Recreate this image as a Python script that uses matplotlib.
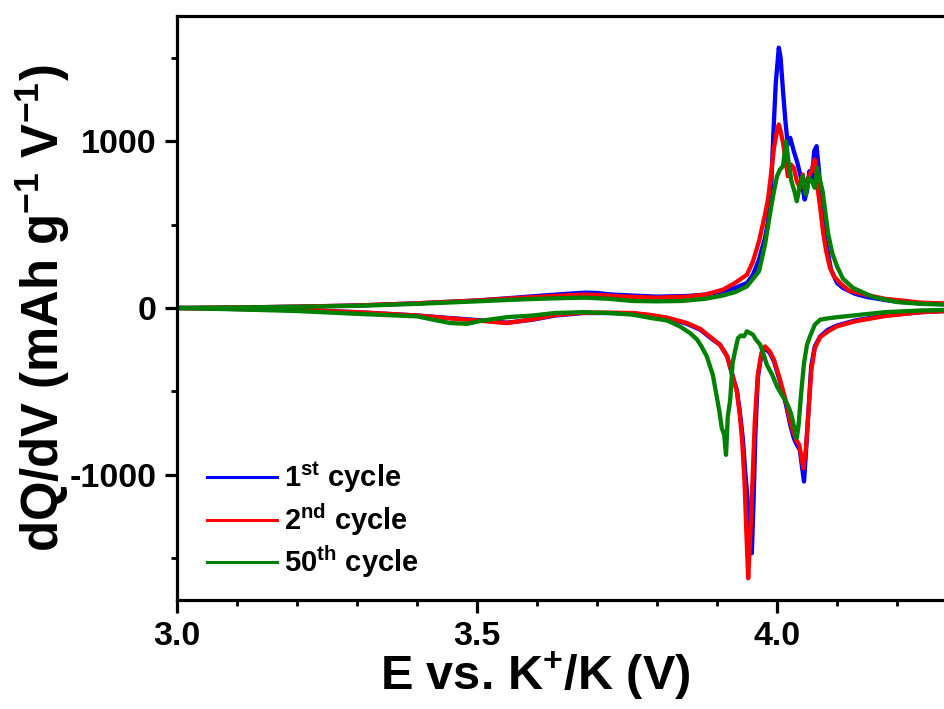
import matplotlib
matplotlib.use("Agg")

import matplotlib.pyplot as plt
from matplotlib.ticker import MultipleLocator

OUT_FILE = "out.png"
FONT     = "Liberation Sans"

# ---- cycle 1 (blue) ----
V1_CHG = [3.00, 3.10, 3.20, 3.30, 3.40, 3.50, 3.55, 3.60, 3.65, 3.68, 3.70, 3.72, 3.75, 3.80, 3.85,
          3.88, 3.91, 3.93, 3.95, 3.96, 3.97, 3.98, 3.985, 3.990, 3.994, 3.998, 4.003, 4.006, 4.010,
          4.014, 4.018, 4.022, 4.028, 4.034, 4.040, 4.046, 4.050, 4.054, 4.058, 4.062, 4.066, 4.070,
          4.075, 4.080, 4.085, 4.090, 4.10, 4.11, 4.13, 4.15, 4.18, 4.20, 4.24, 4.30]
Q1_CHG = [0, 3, 8, 15, 28, 45, 58, 72, 85, 92, 90, 82, 76, 68, 72,
          80, 100, 120, 150, 200, 290, 420, 520, 700, 1050, 1350, 1560, 1500, 1300,
          1120, 980, 1020, 940, 870, 780, 650, 700, 820, 760, 940, 970, 820,
          570, 420, 330, 230, 150, 120, 85, 66, 48, 38, 28, 20]
V1_DIS = [4.30, 4.24, 4.18, 4.13, 4.10, 4.085, 4.072, 4.063, 4.057, 4.052, 4.048, 4.045, 4.042, 4.038,
          4.033, 4.028, 4.022, 4.015, 4.005, 3.995, 3.988, 3.980, 3.974, 3.968, 3.964, 3.961, 3.958,
          3.955, 3.951, 3.947, 3.943, 3.938, 3.933, 3.927, 3.917, 3.905, 3.893, 3.872, 3.85, 3.817,
          3.79, 3.76, 3.72, 3.677, 3.63, 3.593, 3.55, 3.51, 3.455, 3.40, 3.30, 3.20, 3.10, 3.00]
Q1_DIS = [-15, -25, -45, -75, -105, -130, -170, -230, -350, -640, -880, -1040, -960, -850,
          -820, -780, -700, -580, -440, -320, -270, -240, -280, -420, -750, -1150, -1470,
          -1320, -1150, -980, -780, -620, -490, -420, -290, -220, -190, -130, -95, -60,
          -45, -32, -30, -30, -45, -70, -88, -75, -60, -45, -25, -12, -6, 0]

# ---- cycle 2 (red) ----
V2_CHG = [3.00, 3.10, 3.20, 3.30, 3.40, 3.50, 3.55, 3.60, 3.65, 3.68, 3.70, 3.75, 3.80, 3.85, 3.88,
          3.91, 3.93, 3.95, 3.96, 3.97, 3.98, 3.985, 3.990, 3.995, 4.000, 4.003, 4.006, 4.010, 4.014,
          4.018, 4.023, 4.028, 4.033, 4.038, 4.043, 4.047, 4.052, 4.057, 4.063, 4.067, 4.072, 4.077,
          4.082, 4.088, 4.095, 4.105, 4.12, 4.15, 4.18, 4.20, 4.24, 4.30]
Q2_CHG = [0, 3, 8, 15, 28, 45, 56, 66, 76, 80, 78, 68, 62, 68, 80,
          110, 150, 200, 280, 400, 560, 650, 800, 960, 1060, 1100, 1060, 990, 900,
          790, 860, 840, 760, 720, 800, 690, 780, 820, 890, 740, 600, 450,
          340, 245, 190, 150, 105, 78, 55, 48, 32, 25]
V2_DIS = [4.30, 4.24, 4.18, 4.13, 4.10, 4.085, 4.072, 4.063, 4.057, 4.052, 4.048, 4.044, 4.041, 4.037,
          4.032, 4.027, 4.022, 4.015, 4.005, 3.995, 3.988, 3.980, 3.974, 3.968, 3.963, 3.959, 3.955,
          3.952, 3.949, 3.946, 3.942, 3.938, 3.933, 3.927, 3.917, 3.905, 3.893, 3.872, 3.85, 3.817,
          3.79, 3.76, 3.72, 3.677, 3.63, 3.593, 3.55, 3.51, 3.455, 3.40, 3.30, 3.20, 3.10, 3.00]
Q2_DIS = [-15, -25, -48, -80, -110, -140, -175, -240, -380, -650, -850, -960, -900, -820,
          -790, -740, -680, -560, -430, -310, -260, -230, -270, -400, -680, -1050, -1400,
          -1620, -1350, -1050, -800, -640, -500, -420, -290, -220, -185, -125, -90, -58,
          -42, -30, -28, -28, -42, -68, -90, -78, -62, -45, -25, -12, -6, 0]

# ---- cycle 50 (green) ----
V50_CHG = [3.00, 3.10, 3.20, 3.30, 3.40, 3.50, 3.55, 3.60, 3.65, 3.68, 3.72, 3.76, 3.80, 3.84, 3.88,
           3.91, 3.93, 3.95, 3.97, 3.98, 3.990, 3.995, 4.000, 4.005, 4.010, 4.015, 4.019, 4.024,
           4.029, 4.033, 4.038, 4.043, 4.048, 4.053, 4.058, 4.063, 4.067, 4.072, 4.076, 4.080,
           4.085, 4.092, 4.100, 4.110, 4.127, 4.16, 4.20, 4.24, 4.30]
Q50_CHG = [0, 3, 7, 13, 25, 40, 48, 55, 60, 62, 55, 42, 40, 42, 55,
           75, 95, 130, 220, 380, 600, 700, 790, 830, 850, 1000, 880, 760,
           700, 640, 730, 790, 680, 780, 760, 720, 840, 760, 700, 590,
           450, 330, 250, 175, 120, 66, 36, 25, 18]
V50_DIS = [4.30, 4.24, 4.18, 4.127, 4.10, 4.085, 4.072, 4.063, 4.055, 4.050, 4.045, 4.040, 4.036,
           4.033, 4.029, 4.024, 4.020, 4.015, 4.008, 4.000, 3.992, 3.983, 3.977, 3.972, 3.965,
           3.960, 3.955, 3.950, 3.945, 3.940, 3.935, 3.930, 3.926, 3.922, 3.918, 3.915, 3.912,
           3.908, 3.904, 3.900, 3.893, 3.883, 3.874, 3.867, 3.855, 3.838, 3.817, 3.79, 3.76,
           3.72, 3.677, 3.63, 3.593, 3.55, 3.51, 3.483, 3.455, 3.427, 3.40, 3.30, 3.20, 3.10, 3.00]
Q50_DIS = [-10, -15, -25, -45, -55, -62, -70, -100, -170, -220, -330, -520, -700,
           -780, -720, -640, -600, -560, -520, -470, -400, -340, -270, -220, -190,
           -160, -150, -140, -170, -165, -180, -260, -330, -550, -650, -880, -760,
           -720, -620, -540, -400, -290, -230, -190, -150, -110, -75, -60, -40,
           -30, -25, -30, -45, -55, -75, -95, -90, -70, -50, -35, -18, -8, 0]

LABELS = [r"1$^{\mathbf{st}}$ cycle", r"2$^{\mathbf{nd}}$ cycle", r"50$^{\mathbf{th}}$ cycle"]
COLORS = ["#0000ff", "#ff0000", "#008000"]

X_LIM = (3.0, 4.3)
Y_LIM = (-1750, 1750)


def setup_style():
    plt.rcParams["font.family"]        = FONT
    plt.rcParams["font.weight"]        = "bold"
    plt.rcParams["mathtext.fontset"]   = "custom"
    plt.rcParams["mathtext.rm"]        = f"{FONT}:bold"
    plt.rcParams["mathtext.it"]        = f"{FONT}:bold"
    plt.rcParams["mathtext.bf"]        = f"{FONT}:bold"
    plt.rcParams["axes.unicode_minus"] = False


def plot_dqdv():
    fig = plt.figure(figsize=(9.45, 7.09), dpi=100)
    ax  = fig.add_axes([177 / 945, 109 / 709, 780 / 945, 584 / 709])

    curves = [
        (V1_CHG + V1_DIS, Q1_CHG + Q1_DIS),
        (V2_CHG + V2_DIS, Q2_CHG + Q2_DIS),
        (V50_CHG + V50_DIS, Q50_CHG + Q50_DIS),
    ]

    for (v, q), color, label in zip(curves, COLORS, LABELS):
        ax.plot(v, q, color=color, lw=3.1, label=label, solid_joinstyle="round")

    ax.set_xlim(*X_LIM)
    ax.set_ylim(*Y_LIM)

    ax.xaxis.set_major_locator(MultipleLocator(0.5))
    ax.xaxis.set_minor_locator(MultipleLocator(0.1))
    ax.yaxis.set_major_locator(MultipleLocator(1000))
    ax.yaxis.set_minor_locator(MultipleLocator(500))
    ax.xaxis.set_major_formatter(plt.FormatStrFormatter("%.1f"))

    for side in ax.spines.values():
        side.set_linewidth(2.3)

    ax.tick_params(which="major", direction="out", length=9, width=2.3, labelsize=24.5, pad=6)
    ax.tick_params(which="minor", direction="out", length=4.5, width=2.0)
    ax.tick_params(top=False, right=False)

    ax.set_xlabel(r"E vs. K$^{+}$/K (V)", fontsize=35, fontweight="bold")
    ax.set_ylabel(r"dQ/dV (mAh g$^{-1}$ V$^{-1}$)", fontsize=36.5, fontweight="bold")
    ax.xaxis.set_label_coords(0.459, -0.085)
    ax.yaxis.set_label_coords(-0.135, 0.5)

    legend = ax.legend(
        loc            = "lower left",
        bbox_to_anchor = (0.005, -0.011),
        frameon        = False,
        fontsize       = 21,
        handlelength   = 2.4,
        handletextpad  = 0.25,
        labelspacing   = 0.2,
    )
    for line in legend.get_lines():
        line.set_linewidth(2.2)

    fig.savefig(OUT_FILE, dpi=100)
    plt.close(fig)


if __name__ == "__main__":
    setup_style()
    plot_dqdv()
